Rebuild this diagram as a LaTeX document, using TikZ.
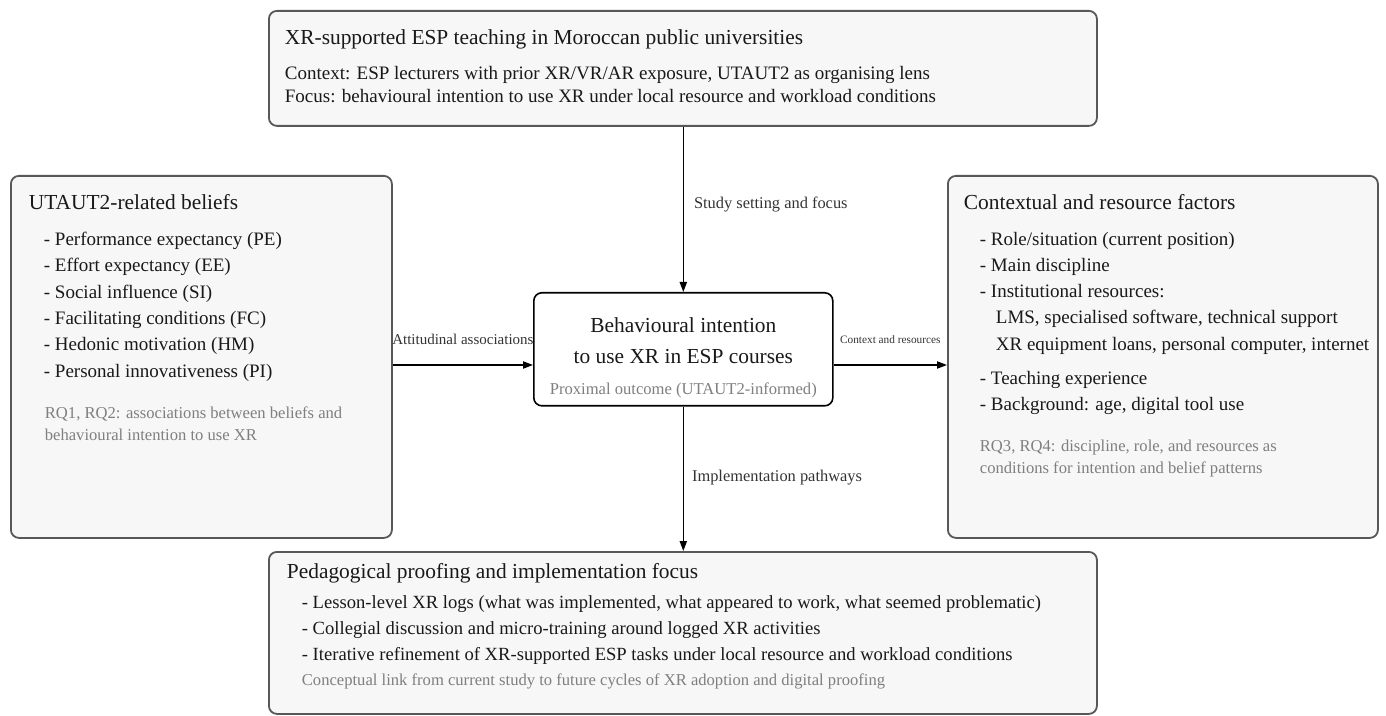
\documentclass[tikz,border=0pt]{standalone}
\usepackage{fontspec}
\setmainfont{Liberation Serif}
\usepackage{xcolor}
\usepackage{tikz}
\usetikzlibrary{arrows.meta}
\definecolor{panelfill}{HTML}{F7F7F7}
\definecolor{panelrule}{HTML}{585858}
\definecolor{notegray}{HTML}{7F7F7F}
\newcommand{\panelhead}{\fontsize{10.7}{13}\selectfont}
\newcommand{\panelitem}{\fontsize{9.5}{13.2}\selectfont}
\newcommand{\panelnote}{\fontsize{8.3}{11}\selectfont\color{notegray}}
\tikzset{
  panel/.style={draw=panelrule, line width=0.9pt, fill=panelfill, rounded corners=4pt,
                inner sep=0pt, anchor=north west, text=black!90},
  focal/.style={panel, draw=black, line width=0.8pt, fill=white},
  cue/.style={inner sep=0pt, text depth=0pt, text=black!80, font=\fontsize{8.2}{9}\selectfont},
  arrow/.style={-{Triangle[length=5pt,width=3.6pt]}, line width=0.75pt}
}

\begin{document}
\begin{tikzpicture}[x=0.5pt, y=0.5pt]
  \useasboundingbox (0,0) rectangle (1386,-716);
  \node[panel] (setting) at (268,-10) {\parbox[t][57.5pt][t]{414pt}{\raggedright\leftskip=8pt
    {\panelhead\rule{0pt}{17pt}XR-supported ESP teaching in Moroccan public universities\par}
    \vspace{5.8pt}
    {\fontsize{9.5}{11.5}\selectfont
    Context: ESP lecturers with prior XR/VR/AR exposure, UTAUT2 as organising lens\\
    Focus: behavioural intention to use XR under local resource and workload conditions\par}}};
  \node[panel] (beliefs) at (10,-175) {\parbox[t][181pt][t]{190.5pt}{\raggedright
    {\panelhead\leftskip=9pt\rule{0pt}{17pt}UTAUT2-related beliefs\par}
    \vspace{4.55pt}
    {\panelitem\leftskip=16.5pt
    - Performance expectancy (PE)\\
    - Effort expectancy (EE)\\
    - Social influence (SI)\\
    - Facilitating conditions (FC)\\
    - Hedonic motivation (HM)\\
    - Personal innovativeness (PI)\par}
    \vspace{9.5pt}
    {\panelnote\leftskip=17pt
    RQ1, RQ2: associations between beliefs and\\
    behavioural intention to use XR\par}}};
  \node[panel] (factors) at (947,-175) {\parbox[t][181pt][t]{215pt}{\raggedright
    {\panelhead\leftskip=8pt\rule{0pt}{17pt}Contextual and resource factors\par}
    \vspace{4.65pt}
    {\fontsize{9.5}{13.1}\selectfont\leftskip=16pt
    - Role/situation (current position)\\
    - Main discipline\\
    - Institutional resources:\\
    \hspace*{8pt}LMS, specialised software, technical support\\
    \hspace*{8pt}XR equipment loans, personal computer, internet\\[3.9pt]
    - Teaching experience\\
    - Background: age, digital tool use\par}
    \vspace{9.5pt}
    {\panelnote\leftskip=16pt
    RQ3, RQ4: discipline, role, and resources as\\
    conditions for intention and belief patterns\par}}};
  \node[focal] (intent) at (533,-292) {\parbox[t][56.5pt][t]{149.5pt}{\centering
    {\panelhead\rule{0pt}{20pt}Behavioural intention\par}
    \vspace{2.5pt}
    {\panelhead to use XR in ESP courses\par}
    \vspace{4.25pt}
    {\panelnote Proximal outcome (UTAUT2-informed)\par}}};
  \node[panel] (proofing) at (268,-551) {\parbox[t][81pt][t]{414pt}{\raggedright
    {\panelhead\leftskip=9pt\rule{0pt}{13.5pt}Pedagogical proofing and implementation focus\par}
    \vspace{1.65pt}
    {\fontsize{9.3}{13}\selectfont\leftskip=16.5pt
    - Lesson-level XR logs (what was implemented, what appeared to work, what seemed problematic)\\
    - Collegial discussion and micro-training around logged XR activities\\
    - Iterative refinement of XR-supported ESP tasks under local resource and workload conditions\par}
    \vspace{1.6pt}
    {\panelnote\leftskip=16.5pt
    Conceptual link from current study to future cycles of XR adoption and digital proofing\par}}};
  \coordinate (lane) at (0,-365);
  \draw[arrow] (intent.north |- setting.south) -- node[cue, right=5pt, pos=0.46]
    {Study setting and focus} (intent.north);
  \draw[arrow] (beliefs.east |- lane) -- node[cue, above=9.75pt, font=\fontsize{7.5}{8}\selectfont]
    {Attitudinal associations} (intent.west |- lane);
  \draw[arrow] (intent.east |- lane) -- node[cue, above=10.25pt, font=\fontsize{5.65}{6}\selectfont]
    {Context and resources} (factors.west |- lane);
  \draw[arrow] (intent.south) -- node[cue, right=4pt, pos=0.476]
    {Implementation pathways} (intent.south |- proofing.north);
\end{tikzpicture}
\end{document}
